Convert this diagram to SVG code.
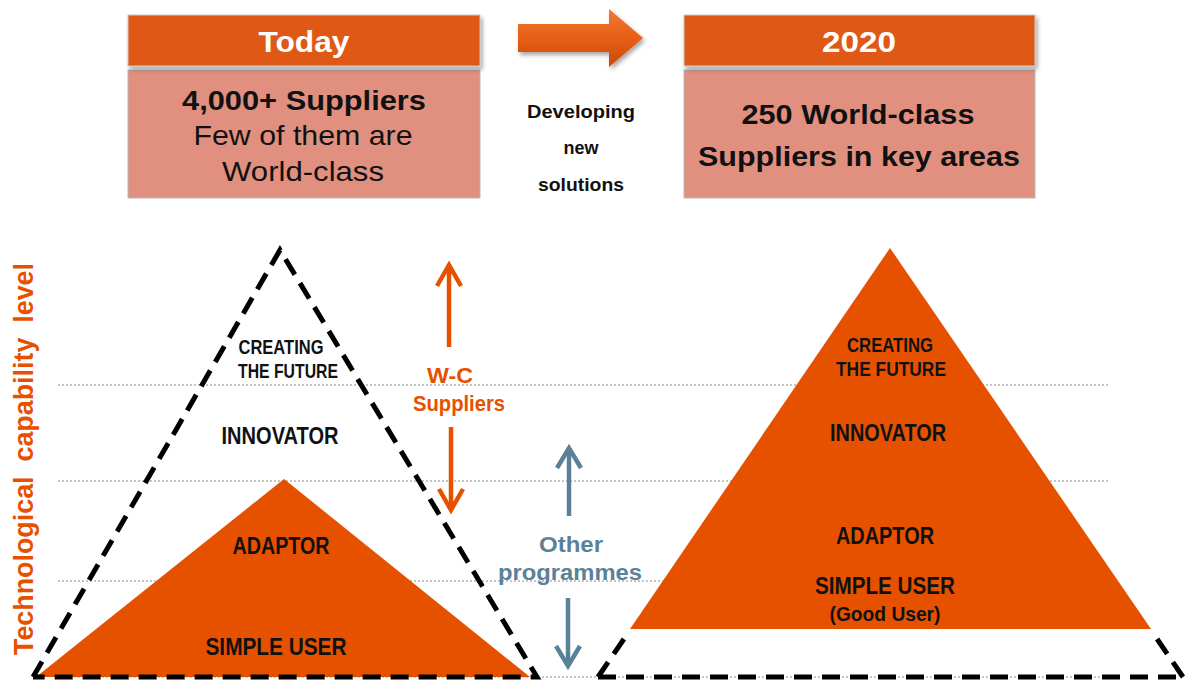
<svg xmlns="http://www.w3.org/2000/svg" width="1192" height="680" viewBox="0 0 1192 680">
<style>
.hdr{fill:#E05815;stroke:#C9C9C9;stroke-width:1}
.body{fill:#E1907F;stroke:#B8B8B8;stroke-width:1}
.ht{font-family:"Liberation Sans",Arial,sans-serif;font-weight:bold;font-size:30px;fill:#FFFFFF;text-anchor:middle}
.bt{font-family:"Liberation Sans",Arial,sans-serif;font-size:28px;fill:#111;text-anchor:middle}
.b{font-weight:bold}
.mid{font-family:"Liberation Sans",Arial,sans-serif;font-weight:bold;font-size:18px;fill:#111;text-anchor:middle}
.lvl{font-family:"Liberation Sans Narrow","Liberation Sans",Arial,sans-serif;font-weight:bold;font-size:23px;fill:#111;text-anchor:middle}
.lvs{font-size:20px}
.dot{stroke:#8A8A8A;stroke-width:1;stroke-dasharray:2 2;fill:none}
.dash{stroke:#000;stroke-width:5;stroke-dasharray:18 10;fill:none}
.orange{fill:#E65100}
.oarr{stroke:#E65100;stroke-width:4.5;fill:none}
.barr{stroke:#5B8199;stroke-width:4.5;fill:none}
.olab{font-family:"Liberation Sans",Arial,sans-serif;font-weight:bold;font-size:22px;fill:#E65100;text-anchor:middle}
.blab{font-family:"Liberation Sans",Arial,sans-serif;font-weight:bold;font-size:22px;fill:#5B8199;text-anchor:middle}
</style>
<defs>
<filter id="sh" x="-10%" y="-20%" width="130%" height="150%">
<feDropShadow dx="2" dy="3" stdDeviation="2" flood-color="#000" flood-opacity="0.35"/>
</filter>
<linearGradient id="ag" x1="0" y1="0" x2="0" y2="1">
<stop offset="0" stop-color="#F07A35"/>
<stop offset="0.5" stop-color="#E85E14"/>
<stop offset="1" stop-color="#C94A0A"/>
</linearGradient>
</defs>

<g id="guides">
<line class="dot" x1="58" y1="385" x2="1110" y2="385"/>
<line class="dot" x1="58" y1="481" x2="1110" y2="481"/>
<line class="dot" x1="58" y1="581" x2="1110" y2="581"/>
<line class="dot" x1="58" y1="677" x2="1110" y2="677"/>
</g>

<g id="today">
<rect class="body" x="128" y="70" width="352" height="128"/>
<rect class="hdr" x="128" y="15" width="352" height="51" filter="url(#sh)"/>
<text class="ht" x="304" y="52" textLength="91" lengthAdjust="spacingAndGlyphs">Today</text>
<text class="bt b" x="304" y="110" textLength="244" lengthAdjust="spacingAndGlyphs">4,000+ Suppliers</text>
<text class="bt" x="303" y="145" textLength="219" lengthAdjust="spacingAndGlyphs">Few of them are</text>
<text class="bt" x="303" y="181" textLength="162" lengthAdjust="spacingAndGlyphs">World-class</text>
</g>

<g id="transition">
<polygon points="518,24 609,24 609,9 643,38 609,67 609,52 518,52" fill="url(#ag)" filter="url(#sh)"/>
<text class="mid" x="581" y="118" textLength="108" lengthAdjust="spacingAndGlyphs">Developing</text>
<text class="mid" x="581" y="154">new</text>
<text class="mid" x="581" y="191" textLength="86" lengthAdjust="spacingAndGlyphs">solutions</text>
</g>

<g id="y2020">
<rect class="body" x="684" y="70" width="351" height="128"/>
<rect class="hdr" x="684" y="15" width="351" height="51" filter="url(#sh)"/>
<text class="ht" x="859" y="52" textLength="74" lengthAdjust="spacingAndGlyphs">2020</text>
<text class="bt b" x="858" y="124" textLength="233" lengthAdjust="spacingAndGlyphs">250 World-class</text>
<text class="bt b" x="859" y="166" textLength="322" lengthAdjust="spacingAndGlyphs">Suppliers in key areas</text>
</g>

<g id="axis">
<text transform="translate(33,459) rotate(-90)" font-family="Liberation Sans,Arial,sans-serif" font-weight="bold" font-size="27" fill="#E65100" text-anchor="middle" style="white-space:pre" textLength="392" lengthAdjust="spacingAndGlyphs">Technological  capability  level</text>
</g>

<g id="today-pyramid">
<polygon class="orange" points="284,479 36,677 530,677"/>
<polyline class="dash" points="33,677 280,250 537,677 33,677" stroke-linejoin="miter"/>
<text class="lvl lvs" x="281" y="354" textLength="85" lengthAdjust="spacingAndGlyphs">CREATING</text>
<text class="lvl lvs" x="288" y="378" textLength="100" lengthAdjust="spacingAndGlyphs">THE  FUTURE</text>
<text class="lvl" x="280" y="444" textLength="117" lengthAdjust="spacingAndGlyphs">INNOVATOR</text>
<text class="lvl" x="281" y="554" textLength="97" lengthAdjust="spacingAndGlyphs">ADAPTOR</text>
<text class="lvl" x="276" y="655" textLength="141" lengthAdjust="spacingAndGlyphs">SIMPLE  USER</text>
</g>

<g id="future-pyramid">
<polygon class="orange" points="890,248 630,629 1151,629"/>
<line class="dash" x1="598" y1="677" x2="1183" y2="677"/>
<line class="dash" x1="598" y1="677" x2="628" y2="633"/>
<line class="dash" x1="1183" y1="677" x2="1153" y2="633"/>
<text class="lvl lvs" x="890" y="352" textLength="86" lengthAdjust="spacingAndGlyphs">CREATING</text>
<text class="lvl lvs" x="891" y="376" textLength="110" lengthAdjust="spacingAndGlyphs">THE  FUTURE</text>
<text class="lvl" x="888" y="441" textLength="116" lengthAdjust="spacingAndGlyphs">INNOVATOR</text>
<text class="lvl" x="885" y="544" textLength="98" lengthAdjust="spacingAndGlyphs">ADAPTOR</text>
<text class="lvl" x="885" y="594" textLength="140" lengthAdjust="spacingAndGlyphs">SIMPLE  USER</text>
<text class="lvl lvs" x="885" y="621" textLength="111" lengthAdjust="spacingAndGlyphs">(Good User)</text>
</g>

<g id="connectors">
<line class="oarr" x1="449" y1="347" x2="449" y2="265"/>
<polyline class="oarr" points="437,286 449,265 461,286"/>
<line class="oarr" x1="451" y1="427" x2="451" y2="510"/>
<polyline class="oarr" points="439,489 451,510 463,489"/>
<line class="barr" x1="569" y1="516" x2="569" y2="448"/>
<polyline class="barr" points="557,468 569,448 581,468"/>
<line class="barr" x1="568" y1="598" x2="568" y2="666"/>
<polyline class="barr" points="556,646 568,666 580,646"/>
</g>

<g id="labels">
<text class="olab" x="450" y="383" textLength="46" lengthAdjust="spacingAndGlyphs">W-C</text>
<text class="olab" x="459" y="411" textLength="92" lengthAdjust="spacingAndGlyphs">Suppliers</text>
<text class="blab" x="571" y="552" textLength="64" lengthAdjust="spacingAndGlyphs">Other</text>
<text class="blab" x="570" y="580" textLength="144" lengthAdjust="spacingAndGlyphs">programmes</text>
</g>
</svg>
